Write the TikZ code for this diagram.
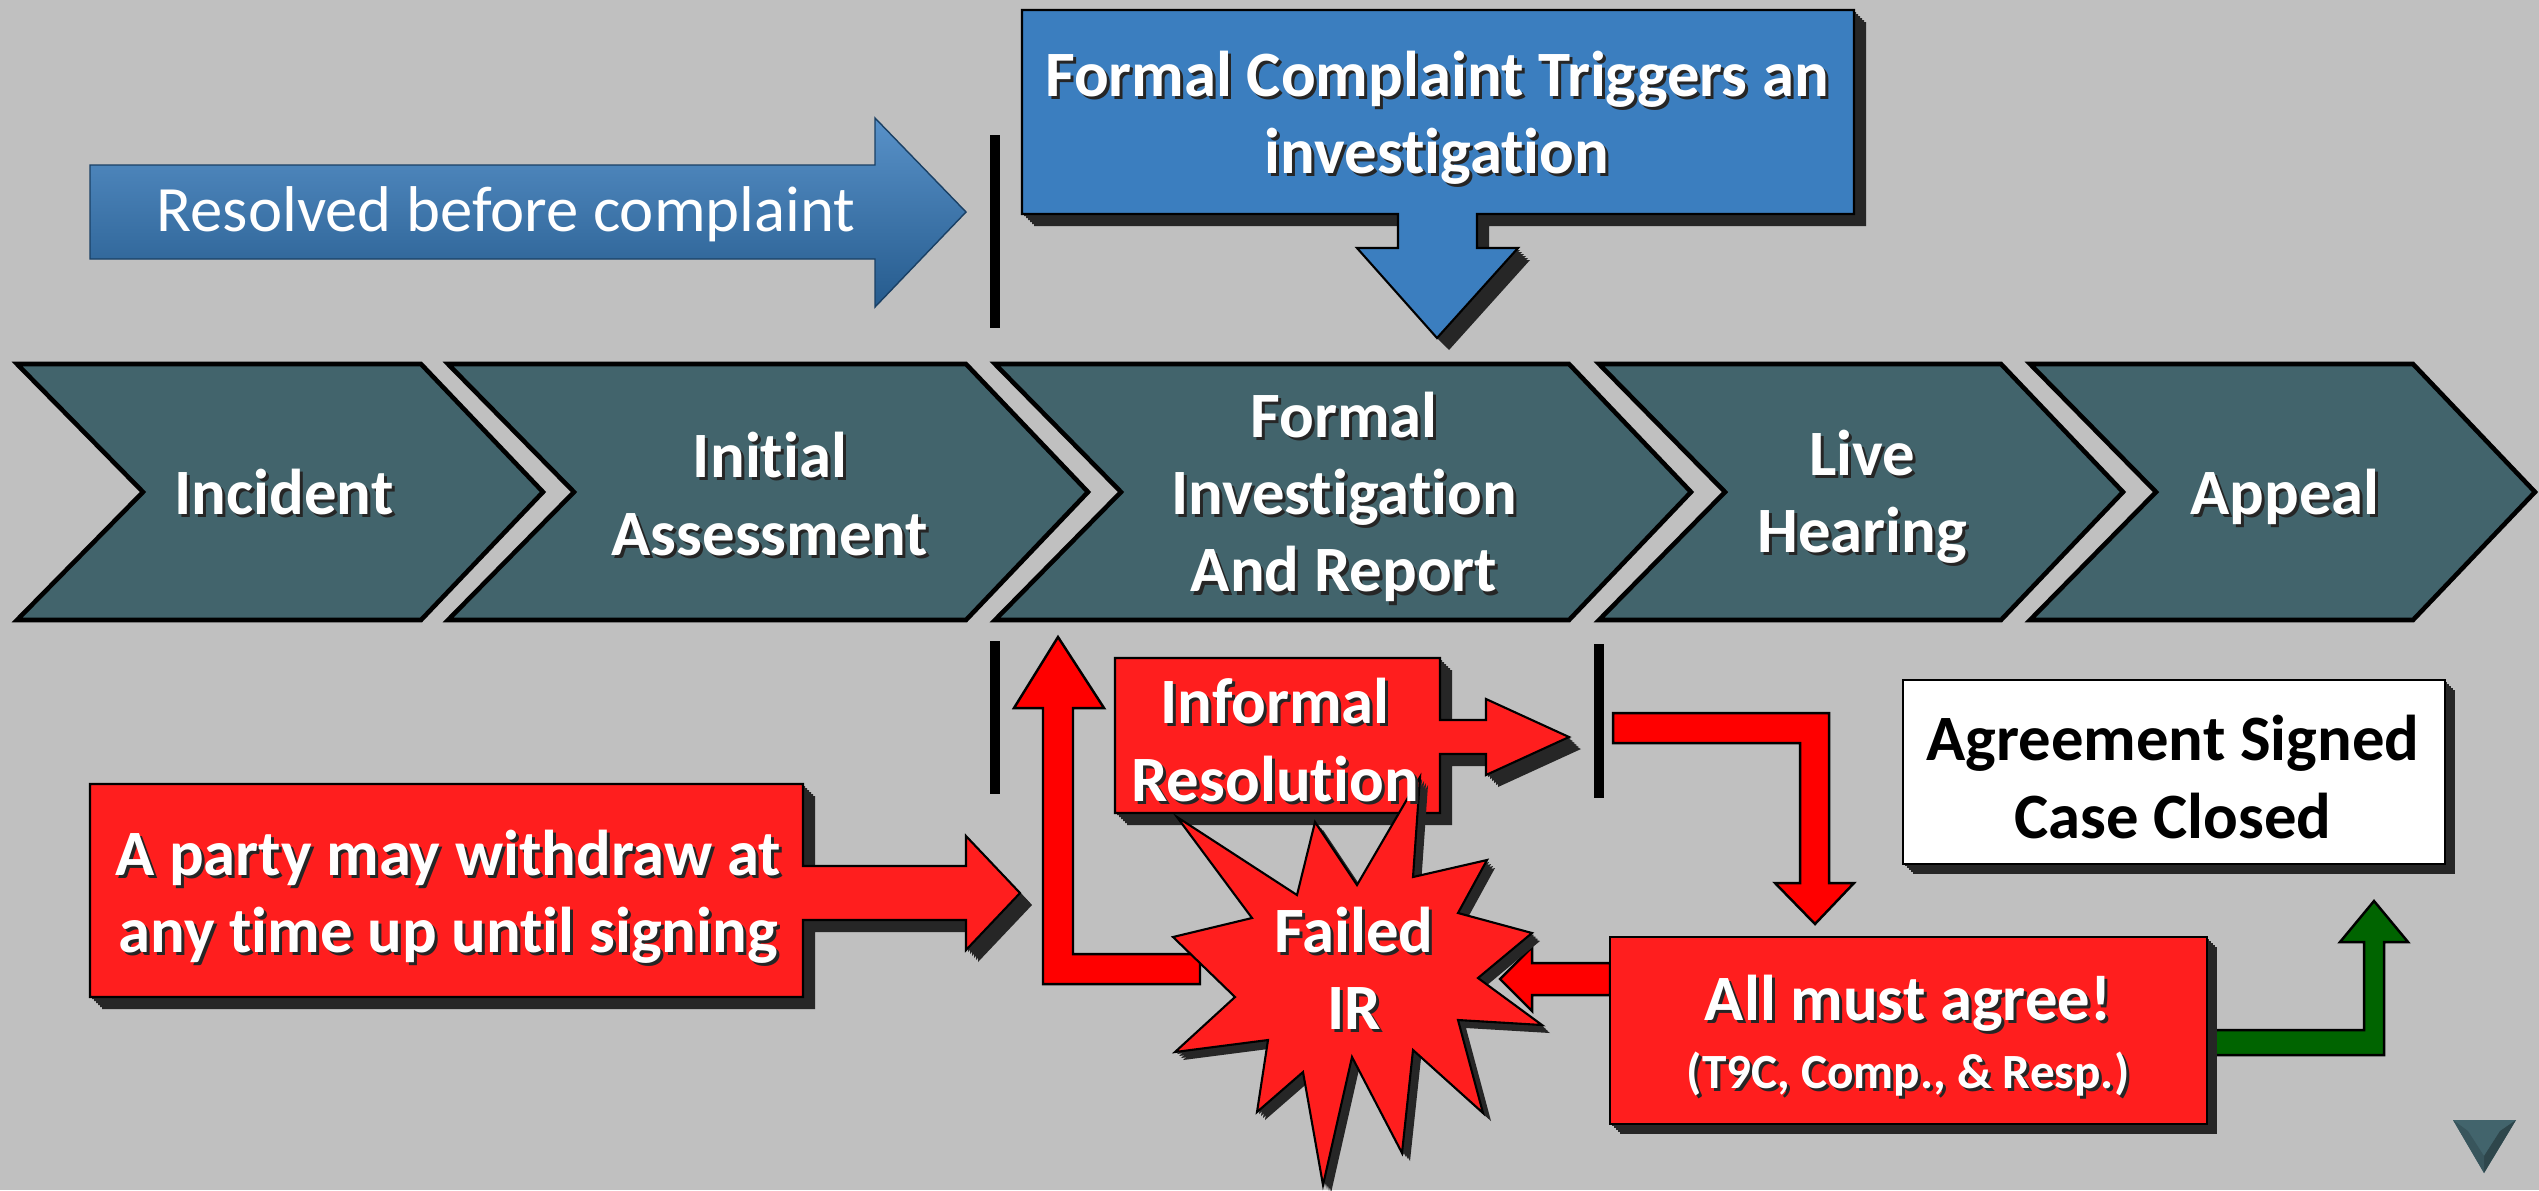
\documentclass[tikz,border=0pt]{standalone}
\usepackage{fontspec}
\setmainfont{Carlito}[RawFeature={-liga}]
\usetikzlibrary{positioning}
\definecolor{canvas}{HTML}{C0C0C0}
\definecolor{slate}{HTML}{42646C}
\definecolor{sky}{HTML}{3B7EBF}
\definecolor{deepsky}{HTML}{2C6BA6}
\definecolor{alarm}{HTML}{FF1E1E}
\definecolor{pure}{HTML}{FF0000}
\definecolor{extrude}{HTML}{262626}
\definecolor{okgreen}{HTML}{006400}

\tikzset{
  lbl/.style={font=\fontsize{18.4}{22}\selectfont\bfseries, align=center, text=white, inner sep=0pt},
  lblsh/.style={lbl, text=black!85, xshift=0.03cm, yshift=-0.03cm},
  phase/.style={draw=black, line width=1.3pt, fill=slate, line join=miter},
  redbox/.style={draw=black, line width=0.6pt, fill=alarm},
  redpipe/.style={draw=black, line width=0.7pt, fill=pure},
  divider/.style={line width=2.6pt, black},
}

% white text with a dark drop shadow
\newcommand{\shadowed}[3]{%
  \node[lblsh] (#1-sh) at (#2) {#3};
  \node[lbl] (#1) at (#2) {#3};}

\begin{document}
\begin{tikzpicture}[x=0.01cm, y=-0.01cm]
  \useasboundingbox (0,0) rectangle (2539,1190);
  \fill[canvas] (0,0) rectangle (2539,1190);

  % top row
  \shade[top color=sky!85!white, middle color=deepsky, bottom color=deepsky!85!black, draw=deepsky!60!black]
    (90,165) -- (875,165) -- (875,118) -- (966,212) -- (875,307) -- (875,259) -- (90,259) -- cycle;
  \draw[divider] (995,135) -- (995,328);

  \def\complaintpath{(1022,10) -- (1854,10) -- (1854,214) -- (1477,214) -- (1477,248) -- (1518,248)
    -- (1437,338) -- (1357,248) -- (1398,248) -- (1398,214) -- (1022,214) -- cycle}
  \foreach \d in {0,2,...,12} \fill[extrude, shift={(\d,\d)}] \complaintpath;
  \draw[fill=sky, draw=black, line width=0.6pt] \complaintpath;

  % phases
  \foreach \l/\r in {17/421, 448/966, 995/1569, 1599/2001, 2030/2413}
    \draw[phase] (\l,364) -- (\r,364) -- (\r+122,492) -- (\r,620) -- (\l,620) -- (\l+126,492) -- cycle;

  % bottom row
  \draw[divider] (995,641) -- (995,794);
  \draw[divider] (1599,644) -- (1599,798);

  \draw[redpipe] (1200,954) -- (1073,954) -- (1073,708) -- (1104,708) -- (1058,637) -- (1014,708)
    -- (1043,708) -- (1043,984) -- (1200,984) -- cycle;
  \draw[redpipe] (1610,963) -- (1532,963) -- (1532,947) -- (1500,979) -- (1532,1011) -- (1532,995)
    -- (1610,995) -- cycle;
  \draw[redpipe] (1613,713) -- (1829,713) -- (1829,883) -- (1854,883) -- (1815,924) -- (1775,883)
    -- (1800,883) -- (1800,743) -- (1613,743) -- cycle;
  \draw[draw=black, line width=0.7pt, fill=okgreen] (2207,1030) -- (2364,1030) -- (2364,942)
    -- (2340,942) -- (2374,901) -- (2408,942) -- (2384,942) -- (2384,1055) -- (2207,1055) -- cycle;

  \def\partypath{(90,784) -- (803,784) -- (803,866) -- (966,866) -- (966,836) -- (1020,893)
    -- (966,950) -- (966,920) -- (803,920) -- (803,997) -- (90,997) -- cycle}
  \foreach \d in {0,2,...,12} \fill[extrude, shift={(\d,\d)}] \partypath;
  \draw[redbox] \partypath;

  \def\informalpath{(1115,658) -- (1440,658) -- (1440,720) -- (1486,720) -- (1486,699) -- (1569,737)
    -- (1486,775) -- (1486,754) -- (1440,754) -- (1440,813) -- (1115,813) -- cycle}
  \foreach \d in {0,2,...,12} \fill[extrude, shift={(\d,\d)}] \informalpath;
  \draw[redbox] \informalpath;

  \def\agreepath{(1610,937) rectangle (2207,1124)}
  \foreach \d in {0,2,...,10} \fill[extrude, shift={(\d,\d)}] \agreepath;
  \draw[redbox] \agreepath;

  \def\signedpath{(1903,680) rectangle (2445,864)}
  \foreach \d in {0,2,...,10} \fill[extrude, shift={(\d,\d)}] \signedpath;
  \draw[fill=white, draw=black, line width=0.6pt] \signedpath;

  \def\burstpath{(1177,817) -- (1297,895) -- (1315,822) -- (1357,885) -- (1420,777) -- (1413,877)
    -- (1487,860) -- (1458,913) -- (1532,933) -- (1478,978) -- (1542,1025) -- (1458,1020)
    -- (1483,1113) -- (1413,1050) -- (1402,1153) -- (1352,1057) -- (1323,1185) -- (1303,1072)
    -- (1257,1112) -- (1268,1040) -- (1175,1052) -- (1235,997) -- (1173,937) -- (1252,918) -- cycle}
  \foreach \d in {0,2,...,8} \fill[extrude, shift={(\d,\d)}] \burstpath;
  \draw[redbox] \burstpath;

  % nav mark
  \fill[slate] (2453,1120) -- (2516,1120) -- (2484,1173) -- cycle;
  \fill[slate!70!black] (2516,1120) -- (2500,1131) -- (2484,1156) -- (2484,1173) -- cycle;
  \fill[slate!85!black] (2453,1120) -- (2468,1131) -- (2484,1156) -- (2484,1173) -- cycle;

  % labels
  \node[lbl, font=\fontsize{18.4}{22}\selectfont] (resolved) at (506,214) {Resolved before complaint};
  \shadowed{complaint}{1437,118}{Formal Complaint Triggers an\\investigation}
  \shadowed{incident}{284,492}{Incident}
  \shadowed{assess}{770,494}{Initial\\Assessment}
  \shadowed{formal}{1344,497}{Formal\\Investigation\\And Report}
  \shadowed{hearing}{1862,497}{Live\\Hearing}
  \shadowed{appeal}{2285,497}{Appeal}
  \shadowed{party}{448,897}{A party may withdraw at\\any time up until signing}
  \shadowed{informal}{1275,740}{Informal\\Resolution}
  \shadowed{failed}{1354,968}{Failed\\IR}
  \shadowed{agree}{1908,1003}{All must agree!}
  \node[lblsh, font=\fontsize{14}{16}\selectfont\bfseries] (parties-sh) at (1908,1074) {(T9C, Comp., \& Resp.)};
  \node[lbl, font=\fontsize{14}{16}\selectfont\bfseries] (parties) at (1908,1074) {(T9C, Comp., \& Resp.)};
  \node[lbl, text=black] (signed) at (2173,777) {Agreement Signed\\Case Closed};
\end{tikzpicture}
\end{document}
